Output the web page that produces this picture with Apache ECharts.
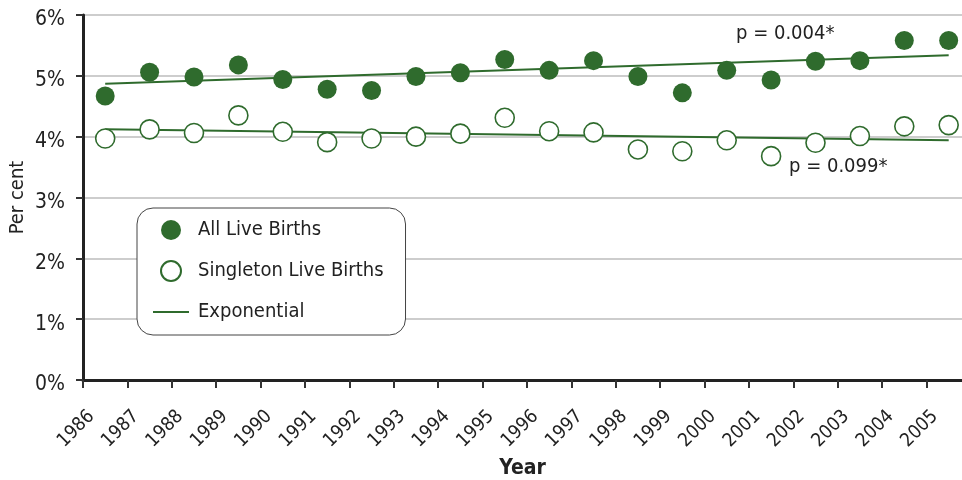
<!doctype html>
<html>
<head>
<meta charset="UTF-8">
<script src="https://cdn.jsdelivr.net/npm/echarts@6/dist/echarts.min.js"></script>
<style>
  html, body { margin: 0; padding: 0; background: #fff; }
  #chart { width: 962px; height: 480px; }
</style>
</head>
<body>
<div id="chart"></div>
<script type="text/javascript">
    // data
    var years = ['1986', '1987', '1988', '1989', '1990', '1991', '1992', '1993', '1994', '1995',
                 '1996', '1997', '1998', '1999', '2000', '2001', '2002', '2003', '2004', '2005'];
    var allBirths = [4.67, 5.06, 4.98, 5.18, 4.94, 4.78, 4.76, 4.99, 5.05, 5.27,
                     5.09, 5.25, 4.99, 4.72, 5.09, 4.93, 5.24, 5.25, 5.58, 5.58];
    var singletonBirths = [3.97, 4.12, 4.06, 4.35, 4.08, 3.91, 3.97, 4.00, 4.05, 4.31,
                           4.09, 4.07, 3.79, 3.76, 3.94, 3.68, 3.90, 4.01, 4.17, 4.19];
    // trend line ends (first year, last year)
    var trendAll = [4.87, 5.34];
    var trendSingleton = [4.12, 3.94];
    var yTicks = [0, 1, 2, 3, 4, 5, 6];

    var font = "'Liberation Sans Narrow', 'DejaVu Sans Condensed', sans-serif";
    var green = '#2f6b2d';

    // points sit between the year ticks
    function pts(arr) {
        return arr.map(function (v, i) { return [i + 0.5, v]; });
    }
    function ends(arr) {
        return [[0.5, arr[0]], [years.length - 0.5, arr[1]]];
    }

    var myChart = echarts.init(document.getElementById('chart'));
    var option = {
        animation: false,
        textStyle: { fontFamily: font },
        grid: { left: 83, right: 0, top: 15, bottom: 100, outerBoundsMode: 'none' },
        legend: {
            orient: 'vertical',
            left: 137,
            top: 208,
            padding: [12, 22, 13, 16],
            itemWidth: 36,
            itemHeight: 20,
            itemGap: 20,
            backgroundColor: '#fff',
            borderColor: '#444',
            borderWidth: 1,
            borderRadius: 16,
            textStyle: { fontSize: 20, color: '#222', fontFamily: font, padding: [0, 0, 0, 4] },
            data: [
                'All Live Births',
                'Singleton Live Births',
                { name: 'Exponential', icon: 'path://M0,0 L36,0 L36,2 L0,2 Z' }
            ]
        },
        xAxis: {
            type: 'value',
            min: 0,
            max: 19.8,
            interval: 1,
            name: 'Year',
            nameLocation: 'middle',
            nameGap: 78,
            nameMoveOverlap: false,
            nameTextStyle: { fontSize: 21, fontWeight: 'bold', color: '#222', fontFamily: font },
            axisLine: { show: true, onZero: false, lineStyle: { color: '#222', width: 3 } },
            axisTick: { show: true, length: 8, lineStyle: { color: '#333', width: 2 } },
            splitLine: { show: false },
            axisLabel: {
                rotate: 45,
                margin: 25,
                verticalAlign: 'top',
                lineHeight: 24,
                fontSize: 19,
                color: '#222',
                showMaxLabel: false,
                formatter: function (v) {
                    return years[v] !== undefined && v === Math.round(v) ? years[v] : '';
                }
            }
        },
        yAxis: {
            type: 'value',
            min: yTicks[0],
            max: yTicks[yTicks.length - 1],
            interval: 1,
            name: 'Per cent',
            nameLocation: 'middle',
            nameGap: 55,
            nameMoveOverlap: false,
            nameTextStyle: { fontSize: 20, color: '#222', fontFamily: font },
            axisLine: { show: true, lineStyle: { color: '#222', width: 3 } },
            axisTick: { show: true, length: 7, lineStyle: { color: '#333', width: 2 } },
            splitLine: { show: true, lineStyle: { color: '#bdbdbd', width: 1.5 } },
            axisLabel: { margin: 18, fontSize: 21, color: '#222', verticalAlign: 'top', lineHeight: 10, formatter: '{value}%' }
        },
        graphic: [
            { type: 'text', left: 736, top: 24, style: { text: 'p = 0.004*', fontSize: 20, fill: '#222', fontFamily: font } },
            { type: 'text', left: 789, top: 157, style: { text: 'p = 0.099*', fontSize: 20, fill: '#222', fontFamily: font } }
        ],
        series: [
            {
                name: 'Exponential',
                type: 'line',
                data: ends(trendAll),
                symbol: 'none',
                lineStyle: { color: green, width: 2 },
                itemStyle: { color: green },
                z: 1
            },
            {
                name: 'Exponential',
                type: 'line',
                data: ends(trendSingleton),
                symbol: 'none',
                lineStyle: { color: green, width: 2 },
                itemStyle: { color: green },
                z: 1
            },
            {
                name: 'All Live Births',
                type: 'scatter',
                data: pts(allBirths),
                symbol: 'circle',
                symbolSize: 19,
                itemStyle: { color: green, opacity: 1 },
                z: 3
            },
            {
                name: 'Singleton Live Births',
                type: 'scatter',
                data: pts(singletonBirths),
                symbol: 'circle',
                symbolSize: 19,
                itemStyle: { color: '#fff', borderColor: green, borderWidth: 1.6, opacity: 1 },
                z: 3
            }
        ]
    };
    myChart.setOption(option);
</script>
</body>
</html>
